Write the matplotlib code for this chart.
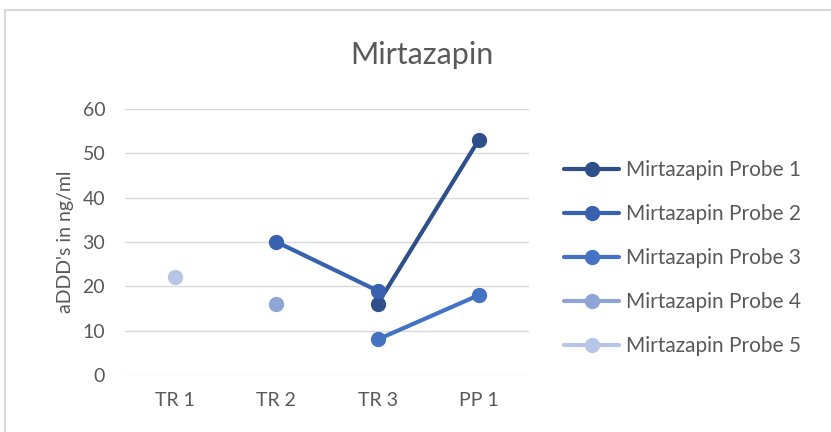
import numpy as np
import matplotlib
matplotlib.use("Agg")
import matplotlib.pyplot as plt
from matplotlib.lines import Line2D

plt.rcParams['font.family'] = ['Lato', 'DejaVu Sans']

categories = ["TR 1", "TR 2", "TR 3", "PP 1"]
probe1 = [np.nan, np.nan, 16, 53]
probe2 = [np.nan, 30, 19, np.nan]
probe3 = [np.nan, np.nan, 8, 18]
probe4 = [np.nan, 16, np.nan, np.nan]
probe5 = [22, np.nan, np.nan, np.nan]
series_names = ["Mirtazapin Probe 1", "Mirtazapin Probe 2", "Mirtazapin Probe 3",
                "Mirtazapin Probe 4", "Mirtazapin Probe 5"]
colors = ["#2E4F8A", "#3862B0", "#4472C4", "#8EA5D6", "#B7C6E6"]

text_color = "#595959"

fig = plt.figure(figsize=(8.31, 4.32), dpi=100)
ax = fig.add_axes([0.150, 0.132, 0.487, 0.616])

x = np.arange(len(categories))
for vals, name, col in zip([probe1, probe2, probe3, probe4, probe5], series_names, colors):
    ax.plot(x, vals, color=col, linewidth=3, marker='o', markersize=10,
            label=name, solid_capstyle='round', zorder=3)

ax.set_xlim(-0.5, len(categories) - 0.5)
ax.set_ylim(0, 60)
ax.set_yticks(range(0, 61, 10))
ax.set_xticks(x)
ax.set_xticklabels(categories)
ax.tick_params(axis='both', length=0, colors=text_color, labelsize=14)
ax.tick_params(axis='y', pad=14)
ax.tick_params(axis='x', pad=12)
ax.grid(axis='y', color='#D9D9D9', linewidth=1, zorder=0)
for s in ax.spines.values():
    s.set_visible(False)

ax.set_ylabel("aDDD's in ng/ml", color=text_color, fontsize=14, labelpad=6)
fig.text(0.508, 0.872, "Mirtazapin", ha='center', va='center', fontsize=22, color=text_color)

leg = ax.legend(loc='center left', bbox_to_anchor=(1.06, 0.44), frameon=False,
                fontsize=15, labelcolor=text_color, handlelength=2.65, handletextpad=0.3,
                labelspacing=1.15, borderpad=0)

# chart border (left + top)
fig.add_artist(Line2D([5 / 831, 5 / 831], [0, 1 - 10 / 432], color='#D9D9D9', linewidth=1.5))
fig.add_artist(Line2D([5 / 831, 1], [1 - 10 / 432, 1 - 10 / 432], color='#D9D9D9', linewidth=1.5))

fig.savefig("out.png", dpi=100)
